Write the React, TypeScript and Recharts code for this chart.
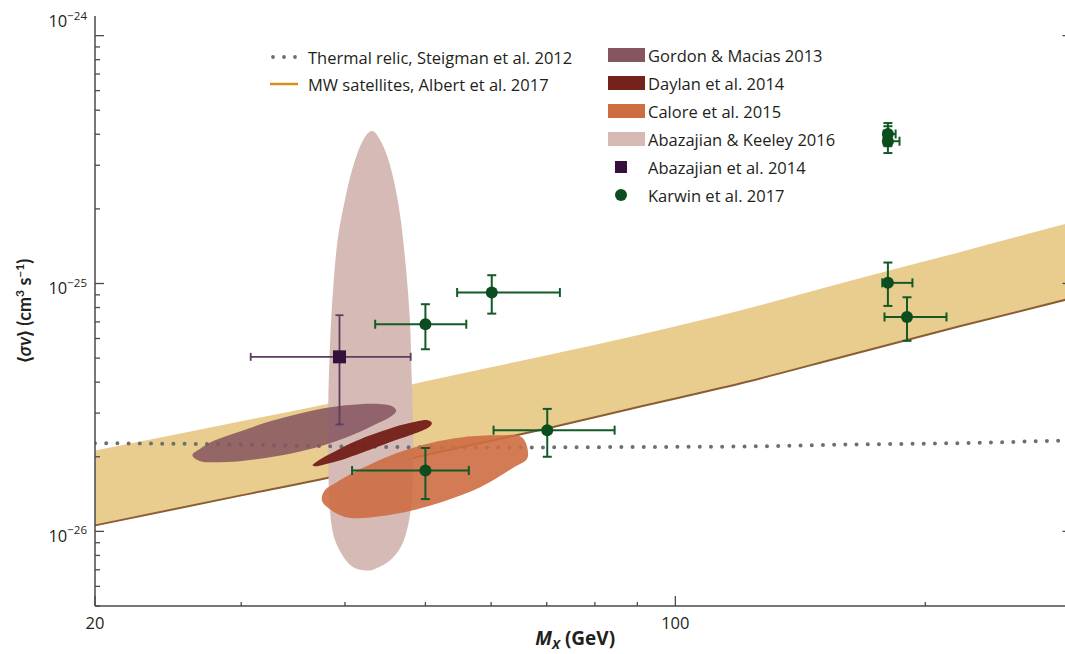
import React from "react";
import { ComposedChart, XAxis, YAxis, Area, Line, Scatter, ErrorBar, Legend, Label } from "recharts";

const FONT = '"Open Sans", Lato, sans-serif';
const TITLE_FONT = 'Lato, "Open Sans", sans-serif';
const INK = "#231f20";
const AXIS = "#4a4a4a";

// axis ticks
const xTicks = [20, 30, 40, 50, 60, 70, 80, 90, 100, 200, 300];
const xLabelled = [20, 100];
const yTicks = [
  5e-27, 6e-27, 7e-27, 8e-27, 9e-27,
  1e-26, 2e-26, 3e-26, 4e-26, 5e-26, 6e-26, 7e-26, 8e-26, 9e-26,
  1e-25, 2e-25, 3e-25, 4e-25, 5e-25, 6e-25, 7e-25, 8e-25, 9e-25,
  1e-24,
];

// MW satellites band, Albert et al. 2017
const bandMass = [20, 30, 40, 50, 70, 90, 120, 160, 220, 300];
const bandLow = [1.057e-26, 1.397e-26, 1.7e-26, 2.03e-26, 2.6e-26, 3.17e-26, 3.96e-26, 5.09e-26, 6.72e-26, 8.72e-26];
const bandHigh = [2.12e-26, 2.78e-26, 3.38e-26, 4.03e-26, 5.13e-26, 6.18e-26, 7.8e-26, 1.012e-25, 1.338e-25, 1.768e-25];

// thermal relic, Steigman et al. 2012
const relicMass = [20, 30, 40, 60, 90, 120, 160, 220, 300];
const relicSv = [2.27e-26, 2.24e-26, 2.2e-26, 2.18e-26, 2.19e-26, 2.2e-26, 2.24e-26, 2.27e-26, 2.33e-26];

// Abazajian & Keeley 2016 contour
const keeleyMass = [43.2, 44.7, 45.8, 46.7, 47.4, 47.9, 48.1, 48.3, 48.3, 48.0, 47.1, 45.6, 43.6, 42.3, 40.8, 39.6, 38.7, 38.3, 38.2, 38.2, 38.4, 38.7, 39.2, 40.0, 40.8, 41.9];
const keeleySv = [4.12e-25, 3.45e-25, 2.61e-25, 1.8e-25, 1.13e-25, 7.11e-26, 4.47e-26, 2.81e-26, 1.76e-26, 1.216e-26, 9.2e-27, 7.78e-27, 7.09e-27, 6.96e-27, 7.22e-27, 8.15e-27, 9.82e-27, 1.335e-26, 2.12e-26, 3.38e-26, 5.9e-26, 9.4e-26, 1.5e-25, 2.17e-25, 2.87e-25, 3.69e-25];

// Gordon & Macias 2013 contour
const gordonMass = [26.2, 26.8, 27.9, 29.9, 32.5, 35.3, 38.4, 41.7, 44.3, 45.6, 46.1, 45.3, 43.5, 41.3, 38.4, 35.3, 32.5, 29.9, 27.9, 26.8];
const gordonSv = [2.03e-26, 2.16e-26, 2.33e-26, 2.53e-26, 2.78e-26, 2.99e-26, 3.17e-26, 3.26e-26, 3.26e-26, 3.2e-26, 3.05e-26, 2.89e-26, 2.7e-26, 2.49e-26, 2.27e-26, 2.1e-26, 1.99e-26, 1.92e-26, 1.9e-26, 1.92e-26];

// Daylan et al. 2014 contour
const daylanMass = [36.6, 37.5, 38.9, 40.6, 42.9, 45.9, 48.6, 50.3, 50.9, 50.2, 47.9, 45.3, 42.3, 39.4, 37.5, 36.8];
const daylanSv = [1.86e-26, 1.97e-26, 2.1e-26, 2.26e-26, 2.44e-26, 2.64e-26, 2.77e-26, 2.81e-26, 2.73e-26, 2.6e-26, 2.44e-26, 2.29e-26, 2.1e-26, 1.93e-26, 1.85e-26, 1.83e-26];

// Calore et al. 2015 contour
const caloreMass = [37.6, 37.8, 39.1, 42.0, 46.2, 50.6, 55.5, 61.0, 65.3, 66.4, 63.7, 58.2, 53.1, 48.3, 44.1, 40.9, 39.1];
const caloreSv = [1.31e-26, 1.46e-26, 1.58e-26, 1.8e-26, 2.07e-26, 2.27e-26, 2.4e-26, 2.44e-26, 2.4e-26, 1.99e-26, 1.8e-26, 1.505e-26, 1.335e-26, 1.216e-26, 1.15e-26, 1.13e-26, 1.18e-26];

// Abazajian et al. 2014 point
const abaMass = [39.4];
const abaSv = [5.06e-26];
const abaMassLo = [30.8];
const abaMassHi = [48.0];
const abaSvLo = [2.7e-26];
const abaSvHi = [7.45e-26];

// Karwin et al. 2017 points
const karwinMass = [50.0, 50.0, 70.1, 60.1, 180.3, 190.1, 180.3, 180.3];
const karwinSv = [6.85e-26, 1.76e-26, 2.56e-26, 9.2e-26, 1.006e-25, 7.33e-26, 4.01e-25, 3.75e-25];
const karwinMassLo = [43.5, 40.8, 60.4, 54.6, 177.5, 178.6, 178.2, 178.2];
const karwinMassHi = [56.0, 56.4, 84.5, 72.6, 193.0, 212.1, 184.2, 186.2];
const karwinSvLo = [5.43e-26, 1.35e-26, 2.0e-26, 7.56e-26, 8.12e-26, 5.87e-26, 3.58e-25, 3.36e-25];
const karwinSvHi = [8.25e-26, 2.17e-26, 3.12e-26, 1.08e-25, 1.215e-25, 8.8e-26, 4.44e-25, 4.31e-25];

const COLORS = {
  band: "#e9cd8e",
  bandEdge: "#8b5d33",
  relic: "#6d6e71",
  satLegend: "#d4901e",
  keeley: "#d5bab6",
  gordon: "#86555f",
  daylan: "#74221a",
  calore: "#cd6d42",
  aba: "#34103a",
  abaBar: "#5c3d61",
  karwin: "#0b4d1e",
  karwinBar: "#135a26",
};

const lineLegend = [
  { label: "Thermal relic, Steigman et al. 2012", kind: "dots", color: COLORS.relic },
  { label: "MW satellites, Albert et al. 2017", kind: "line", color: COLORS.satLegend },
];
const shapeLegend = [
  { label: "Gordon & Macias 2013", kind: "swatch", color: COLORS.gordon },
  { label: "Daylan et al. 2014", kind: "swatch", color: COLORS.daylan },
  { label: "Calore et al. 2015", kind: "swatch", color: COLORS.calore },
  { label: "Abazajian & Keeley 2016", kind: "swatch", color: COLORS.keeley },
  { label: "Abazajian et al. 2014", kind: "square", color: COLORS.aba },
  { label: "Karwin et al. 2017", kind: "circle", color: COLORS.karwin },
];

const zip = (ms: number[], vs: number[]) => ms.map((m, i) => ({ m, sv: vs[i] }));

const bandData = bandMass.map((m, i) => ({ m, range: [bandLow[i], bandHigh[i]], low: bandLow[i] }));
const relicData = zip(relicMass, relicSv);
const keeleyData = zip(keeleyMass, keeleySv);
const gordonData = zip(gordonMass, gordonSv);
const daylanData = zip(daylanMass, daylanSv);
const caloreData = zip(caloreMass, caloreSv);

const withErrors = (ms: number[], vs: number[], mLo: number[], mHi: number[], vLo: number[], vHi: number[]) =>
  ms.map((m, i) => ({
    m,
    sv: vs[i],
    ex: [m - mLo[i], mHi[i] - m],
    ey: [vs[i] - vLo[i], vHi[i] - vs[i]],
  }));

const abaData = withErrors(abaMass, abaSv, abaMassLo, abaMassHi, abaSvLo, abaSvHi);
const karwinData = withErrors(karwinMass, karwinSv, karwinMassLo, karwinMassHi, karwinSvLo, karwinSvHi);

// smooth closed outline through the contour points
function closedPath(pts: { x: number; y: number }[]) {
  const n = pts.length;
  if (!n) return "";
  let d = `M${pts[0].x},${pts[0].y}`;
  for (let i = 0; i < n; i++) {
    const p0 = pts[(i - 1 + n) % n];
    const p1 = pts[i];
    const p2 = pts[(i + 1) % n];
    const p3 = pts[(i + 2) % n];
    const c1x = p1.x + (p2.x - p0.x) / 6;
    const c1y = p1.y + (p2.y - p0.y) / 6;
    const c2x = p2.x - (p3.x - p1.x) / 6;
    const c2y = p2.y - (p3.y - p1.y) / 6;
    d += `C${c1x},${c1y} ${c2x},${c2y} ${p2.x},${p2.y}`;
  }
  return d + "Z";
}

const contour = (color: string, opacity: number) => (p: any) =>
  <path d={closedPath(p.points || [])} fill={color} fillOpacity={opacity} stroke="none" />;

const noPoint = () => <g />;

const exponent = (v: number) => Math.round(Math.log10(v));
const isDecade = (v: number) => Math.abs(v / Math.pow(10, exponent(v)) - 1) < 1e-6;

function LeftTick({ x, y, payload }: any) {
  const v = payload.value;
  const major = isDecade(v);
  const e = exponent(v);
  // the top label sits at the frame corner in the original figure
  const ly = e === -24 ? y - 15 : y + 4;
  return (
    <g>
      <line x1={x} x2={x + (major ? 9 : 5)} y1={y} y2={y} stroke={AXIS} strokeWidth={1.3} />
      {major && (
        <text x={x - 8} y={ly} textAnchor="end" dominantBaseline="central" fontSize={16.5} fill={INK} fontFamily={FONT}>
          10<tspan dy={-6} fontSize={11.5}>{`\u2212${-e}`}</tspan>
        </text>
      )}
    </g>
  );
}

function RightTick({ x, y, payload }: any) {
  const major = isDecade(payload.value);
  return <line x1={x} x2={x - (major ? 9 : 5)} y1={y} y2={y} stroke={AXIS} strokeWidth={1.3} />;
}

function BottomTick({ x, y, payload }: any) {
  const v = payload.value;
  const major = xLabelled.includes(v);
  return (
    <g>
      <line x1={x} x2={x} y1={y} y2={y - (major ? 10 : 4)} stroke={AXIS} strokeWidth={1.3} />
      {major && (
        <text x={x} y={y + 16} textAnchor="middle" dominantBaseline="central" fontSize={16.5} fill={INK} fontFamily={FONT}>
          {v}
        </text>
      )}
    </g>
  );
}

function XTitle({ viewBox }: any) {
  const cx = viewBox.x + viewBox.width / 2 - 8;
  return (
    <text x={cx} y={viewBox.y + 39} textAnchor="middle" fontSize={19} fontWeight={700} fill={INK} fontFamily={FONT}>
      <tspan fontStyle="italic">M</tspan>
      <tspan fontStyle="italic" fontSize={13} dy={3.5}>X</tspan>
      <tspan dy={-3.5}> (GeV)</tspan>
    </text>
  );
}

function YTitle({ viewBox }: any) {
  const cx = viewBox.x + 31;
  const cy = viewBox.y + viewBox.height / 2;
  return (
    <text transform={`rotate(-90 ${cx} ${cy})`} x={cx} y={cy} textAnchor="middle" fontSize={18} fontWeight={700} fill={INK} fontFamily={TITLE_FONT}>
      {"\u27E8"}<tspan fontStyle="italic">σv</tspan>{"\u27E9 (cm"}
      <tspan dy={-7} fontSize={12}>3</tspan>
      <tspan dy={7}> s</tspan>
      <tspan dy={-7} fontSize={12}>{"\u22121"}</tspan>
      <tspan dy={7}>)</tspan>
    </text>
  );
}

function LegendBox() {
  return (
    <svg width={1065} height={220} style={{ display: "block" }}>
      {lineLegend.map((it, i) => {
        const y = 57 + i * 27;
        return (
          <g key={it.label}>
            {it.kind === "dots" ? (
              [273, 284, 295].map((cx) => <circle key={cx} cx={cx} cy={y} r={1.9} fill={it.color} />)
            ) : (
              <line x1={270} x2={298} y1={y} y2={y} stroke={it.color} strokeWidth={2.5} />
            )}
            <text x={308} y={y} dominantBaseline="central" fontSize={16.5} fill={INK} fontFamily={FONT}>
              {it.label}
            </text>
          </g>
        );
      })}
      {shapeLegend.map((it, i) => {
        const y = 55 + i * 28;
        let mark;
        if (it.kind === "swatch") mark = <rect x={608} y={y - 7} width={37} height={14} fill={it.color} />;
        else if (it.kind === "square") mark = <rect x={615} y={y - 6} width={12} height={12} fill={it.color} />;
        else mark = <circle cx={621} cy={y} r={6} fill={it.color} />;
        return (
          <g key={it.label}>
            {mark}
            <text x={648} y={y} dominantBaseline="central" fontSize={16.5} fill={INK} fontFamily={FONT}>
              {it.label}
            </text>
          </g>
        );
      })}
    </svg>
  );
}

export default function App() {
  return (
    <div style={{ position: "absolute", left: 0, top: 0, width: 1065, height: 654, overflow: "hidden", background: "#fff" }}>
      <ComposedChart width={1080} height={654} margin={{ top: 16, right: 0, bottom: 0, left: 0 }}>
        <XAxis
          xAxisId="top"
          orientation="top"
          type="number"
          scale="log"
          domain={[20, 300]}
          allowDataOverflow
          height={0}
          tick={false}
          tickLine={false}
          axisLine={{ stroke: "#6d6d6d", strokeWidth: 1.5 }}
        />
        <XAxis
          dataKey="m"
          type="number"
          scale="log"
          domain={[20, 300]}
          allowDataOverflow
          ticks={xTicks}
          interval={0}
          tickSize={0}
          tickMargin={0}
          tick={BottomTick}
          tickLine={false}
          height={48}
          axisLine={{ stroke: AXIS, strokeWidth: 1.5 }}
        >
          <Label content={XTitle} />
        </XAxis>
        <YAxis
          dataKey="sv"
          type="number"
          scale="log"
          domain={[5e-27, 1.2e-24]}
          allowDataOverflow
          ticks={yTicks}
          interval={0}
          tickSize={0}
          tickMargin={0}
          tick={LeftTick}
          tickLine={false}
          width={95}
          axisLine={{ stroke: AXIS, strokeWidth: 1.5 }}
        >
          <Label content={YTitle} />
        </YAxis>
        <YAxis
          yAxisId="right"
          orientation="right"
          type="number"
          scale="log"
          domain={[5e-27, 1.2e-24]}
          allowDataOverflow
          ticks={yTicks}
          interval={0}
          tickSize={0}
          tickMargin={0}
          tick={RightTick}
          tickLine={false}
          width={8.5}
          axisLine={{ stroke: AXIS, strokeWidth: 1.5 }}
        />
        <Legend
          layout="vertical"
          align="center"
          verticalAlign="middle"
          content={() => <LegendBox />}
          wrapperStyle={{ left: 0, top: 0, width: 1065, height: 220, pointerEvents: "none" }}
        />

        <Area data={bandData} dataKey="range" type="monotone" fill={COLORS.band} fillOpacity={1} stroke="none" isAnimationActive={false} zIndex={100} />
        <Line data={bandData} dataKey="low" type="monotone" stroke={COLORS.bandEdge} strokeWidth={2} dot={false} isAnimationActive={false} zIndex={250} />

        <Scatter data={keeleyData} shape={noPoint} line={contour(COLORS.keeley, 1)} isAnimationActive={false} zIndex={300} />

        <Line
          data={relicData}
          dataKey="sv"
          type="monotone"
          stroke={COLORS.relic}
          strokeWidth={4}
          strokeDasharray="0 11.2"
          strokeLinecap="round"
          dot={false}
          isAnimationActive={false}
          zIndex={400}
        />

        <Scatter data={gordonData} shape={noPoint} line={contour(COLORS.gordon, 0.86)} isAnimationActive={false} zIndex={450} />
        <Scatter data={daylanData} shape={noPoint} line={contour(COLORS.daylan, 0.97)} isAnimationActive={false} zIndex={460} />
        <Scatter data={caloreData} shape={noPoint} line={contour(COLORS.calore, 0.9)} isAnimationActive={false} zIndex={470} />

        <Scatter
          data={abaData}
          isAnimationActive={false}
          zIndex={700}
          shape={(p: any) => <rect x={p.cx - 6.5} y={p.cy - 6.5} width={13} height={13} fill={COLORS.aba} />}
        >
          <ErrorBar dataKey="ex" direction="x" stroke={COLORS.abaBar} strokeWidth={1.8} width={4} isAnimationActive={false} zIndex={650} />
          <ErrorBar dataKey="ey" direction="y" stroke={COLORS.abaBar} strokeWidth={1.8} width={4} isAnimationActive={false} zIndex={650} />
        </Scatter>
        <Scatter
          data={karwinData}
          isAnimationActive={false}
          zIndex={700}
          shape={(p: any) => <circle cx={p.cx} cy={p.cy} r={6} fill={COLORS.karwin} />}
        >
          <ErrorBar dataKey="ex" direction="x" stroke={COLORS.karwinBar} strokeWidth={2} width={4.5} isAnimationActive={false} zIndex={650} />
          <ErrorBar dataKey="ey" direction="y" stroke={COLORS.karwinBar} strokeWidth={2} width={4.5} isAnimationActive={false} zIndex={650} />
        </Scatter>
      </ComposedChart>
    </div>
  );
}
